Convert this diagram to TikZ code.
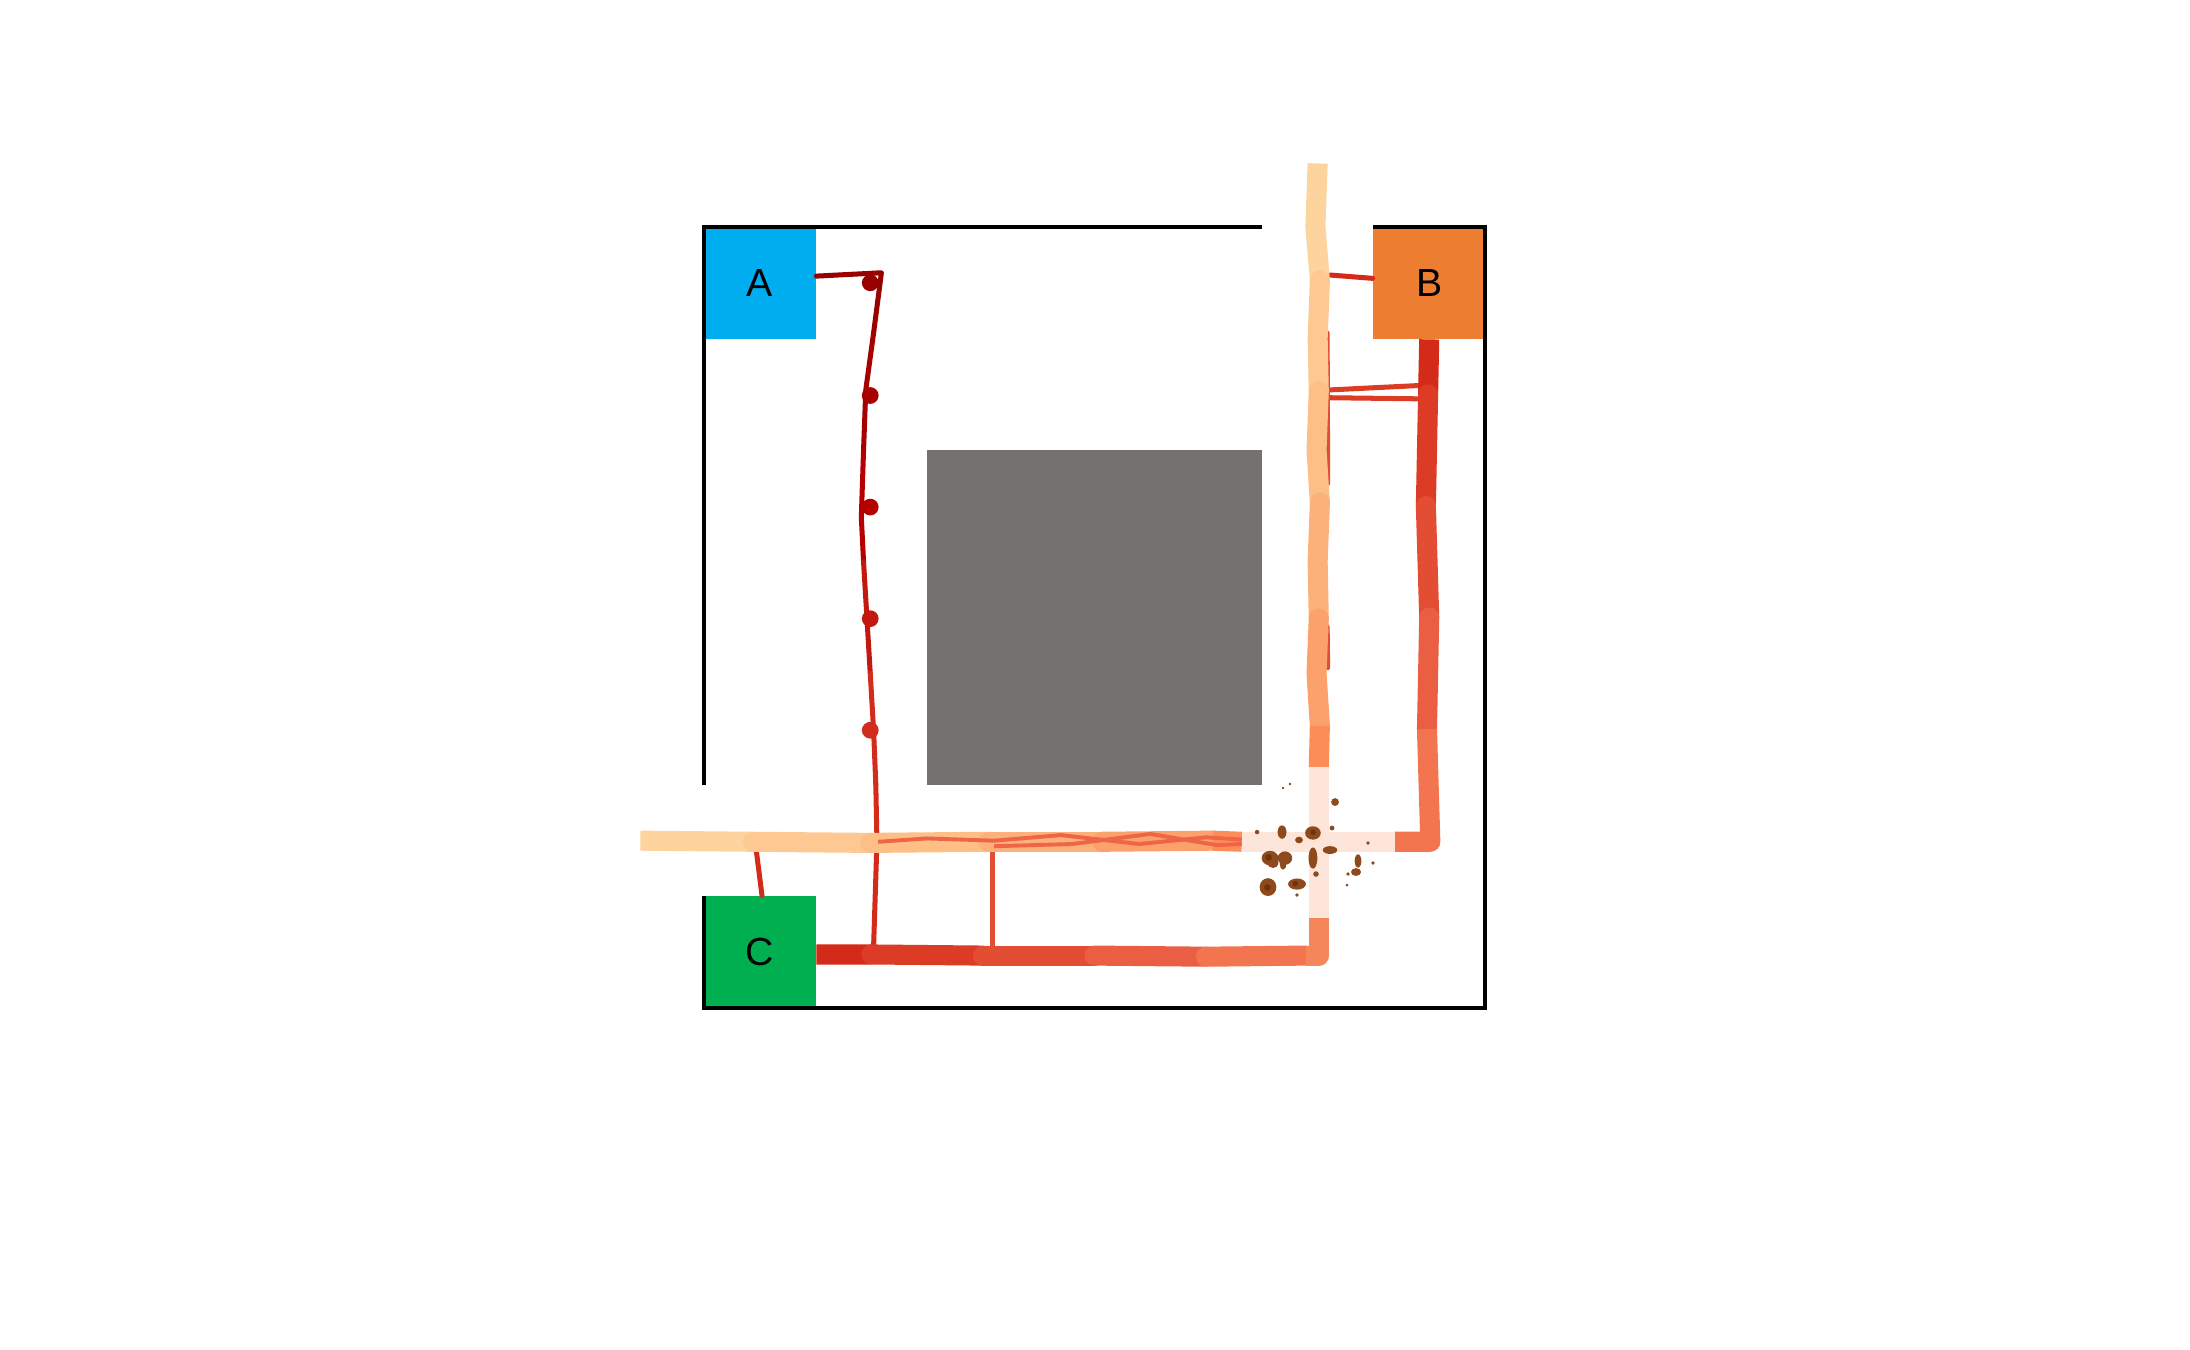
\documentclass[tikz,border=0pt]{standalone}
\usepackage{fontspec}
\setmainfont{Liberation Sans}
\definecolor{boxA}{HTML}{00AEEF}
\definecolor{boxB}{HTML}{ED7D31}
\definecolor{boxC}{HTML}{00B050}
\definecolor{wall}{HTML}{767171}
\definecolor{crumb}{HTML}{8E4A1C}
\definecolor{crumbdark}{HTML}{6E3210}
\definecolor{peachA}{HTML}{FDD49E}
\definecolor{peachB}{HTML}{FDC892}
\definecolor{peachC}{HTML}{FDBF86}
\definecolor{peachD}{HTML}{FCB07A}
\definecolor{peachE}{HTML}{FCA06C}
\definecolor{peachF}{HTML}{FC8D59}
\definecolor{cross}{HTML}{FEE5D9}
\definecolor{redA}{HTML}{D42A1A}
\definecolor{redB}{HTML}{DC3B25}
\definecolor{redC}{HTML}{E34D33}
\definecolor{redD}{HTML}{EA5F43}
\definecolor{redE}{HTML}{F2754F}
\definecolor{redF}{HTML}{F5865A}
\definecolor{darkA}{HTML}{990000}
\definecolor{darkB}{HTML}{A60000}
\definecolor{darkC}{HTML}{B50000}
\definecolor{darkD}{HTML}{C4170F}
\definecolor{darkE}{HTML}{D22C1C}
\definecolor{streak}{HTML}{EE6647}
\begin{document}
\begin{tikzpicture}[x=1cm,y=1cm,
  corner/.style={rectangle, minimum size=1cm, inner sep=0pt, font=\fontsize{10}{12}\selectfont},
  band/.style={line width=0.18cm, line cap=round, line join=round},
  bandend/.style={line width=0.18cm, line cap=butt, line join=round},
  trail/.style={line width=0.045cm, line cap=round, line join=round},
  dot/.style={circle, minimum size=0.15cm, inner sep=0pt},
  crumbs/.style={fill=crumb}]
\useasboundingbox (-6.310,-3.065) rectangle (13.319,9.035);
% arena
\fill[wall] (2,2) rectangle (5,5);
\node[corner, fill=boxA] (A) at (0.5,6.5) {A};
\node[corner, fill=boxB] (B) at (6.5,6.5) {B};
\node[corner, fill=boxC] (C) at (0.5,0.5) {C};
\draw[line width=0.03cm] (5,7) -- (0,7) -- (0,2);
\draw[line width=0.03cm] (0,1) -- (0,0) -- (7,0) -- (7,7) -- (6,7);
% thin connecting tracks
\draw[trail, redA] ([yshift=0.04cm]B.west) -- (5.61,6.57);
\draw[trail, redB] (5.61,5.54) -- (6.42,5.58);
\draw[trail, redB] (5.61,5.47) -- (6.42,5.46);
\draw[trail, redC] (5.585,6.05) -- (5.59,4.70);
\draw[trail, redC] (5.585,3.42) -- (5.59,3.05);
\draw[trail, redA] ([xshift=0.02cm]C.north) -- (0.47,1.40);
\draw[trail, redC] (2.59,1.40) -- (2.59,0.55);
% path from A
\draw[trail, darkA] ([yshift=0.06cm]A.east) -- (1.59,6.59) -- (1.52,6.05);
\draw[trail, darkB] (1.52,6.05) -- (1.45,5.54) -- (1.43,5.00);
\draw[trail, darkC] (1.43,5.00) -- (1.41,4.40) -- (1.43,4.00);
\draw[trail, darkD] (1.43,4.00) -- (1.46,3.50) -- (1.49,3.00);
\draw[trail, darkE] (1.49,3.00) -- (1.52,2.49) -- (1.54,2.00);
\draw[trail, redA] (1.54,2.00) -- (1.55,1.49) -- (1.52,0.55);
\node[dot, fill=darkA] (d1) at (1.49,6.50) {};
\node[dot, fill=darkB] (d2) at (1.49,5.49) {};
\node[dot, fill=darkC] (d3) at (1.49,4.49) {};
\node[dot, fill=darkD] (d4) at (1.49,3.49) {};
\node[dot, fill=darkE] (d5) at (1.49,2.49) {};
% vertical band
\draw[bandend, peachA] (5.50,7.57) -- (5.48,7.00) -- (5.52,6.52);
\draw[band, peachB] (5.52,6.52) -- (5.50,6.00) -- (5.51,5.53);
\draw[band, peachC] (5.51,5.53) -- (5.49,5.00) -- (5.52,4.53);
\draw[band, peachD] (5.52,4.53) -- (5.50,4.00) -- (5.51,3.49);
\draw[band, peachE] (5.51,3.49) -- (5.49,3.00) -- (5.52,2.53);
\draw[bandend, peachF] (5.52,2.53) -- (5.51,2.16);
% horizontal band
\draw[bandend, peachA] (-0.57,1.50) -- (0.44,1.49);
\draw[band, peachB] (0.44,1.49) -- (1.49,1.48);
\draw[band, peachC] (1.49,1.48) -- (2.55,1.49);
\draw[band, peachD] (2.55,1.49) -- (3.57,1.49);
\draw[band, peachE] (3.57,1.49) -- (4.56,1.50);
\draw[bandend, peachF] (4.56,1.50) -- (4.82,1.49);
\draw[line width=0.035cm, streak] (1.56,1.49) -- (2.00,1.52) -- (2.60,1.50) -- (3.20,1.55) -- (3.90,1.47) -- (4.50,1.53) -- (4.82,1.51);
\draw[line width=0.035cm, streak] (2.60,1.45) -- (3.30,1.47) -- (4.00,1.56) -- (4.60,1.46) -- (4.82,1.47);
% right band
\draw[bandend, redA] (B.south) -- (6.49,5.50);
\draw[band, redB] (6.49,5.50) -- (6.47,4.50);
\draw[band, redC] (6.47,4.50) -- (6.50,3.50);
\draw[band, redD] (6.50,3.50) -- (6.48,2.50);
\draw[bandend, redE] (6.48,2.50) -- (6.51,1.49) -- (6.19,1.49);
% bottom band
\draw[bandend, redA] ([yshift=-0.02cm]C.east) -- (1.50,0.48);
\draw[band, redB] (1.50,0.48) -- (2.50,0.47);
\draw[band, redC] (2.50,0.47) -- (3.50,0.47);
\draw[band, redD] (3.50,0.47) -- (4.50,0.46);
\draw[band, redE] (4.50,0.46) -- (5.40,0.47);
\draw[bandend, redF] (5.40,0.47) -- (5.51,0.47) -- (5.51,0.81);
% cross
\draw[bandend, cross] (5.51,2.16) -- (5.51,0.81);
\draw[bandend, cross] (4.82,1.49) -- (6.19,1.49);
% crumbs
\fill[crumbs] (5.073,1.344) ellipse (0.075 and 0.065);
\fill[crumbs] (5.10,1.30) ellipse (0.05 and 0.045);
\fill[crumbs] (5.207,1.344) ellipse (0.065 and 0.06);
\fill[crumbs] (5.19,1.29) ellipse (0.03 and 0.05);
\fill[crumbs] (5.055,1.084) ellipse (0.075 and 0.08);
\fill[crumbs] (5.315,1.111) ellipse (0.08 and 0.05);
\fill[crumbs] (5.458,1.569) ellipse (0.07 and 0.06);
\fill[crumbs] (5.181,1.577) ellipse (0.04 and 0.06);
\fill[crumbs] (5.458,1.344) ellipse (0.04 and 0.095);
\fill[crumbs] (5.611,1.416) ellipse (0.065 and 0.035);
\fill[crumbs] (5.333,1.506) ellipse (0.035 and 0.03);
\fill[crumbs] (5.656,1.846) circle (0.035);
\fill[crumbs] (5.862,1.318) ellipse (0.03 and 0.06);
\fill[crumbs] (5.844,1.219) ellipse (0.045 and 0.035);
\fill[crumbs] (5.485,1.201) circle (0.025);
\fill[crumbs] (5.629,1.613) circle (0.022);
\fill[crumbs] (5.951,1.479) circle (0.017);
\fill[crumbs] (5.996,1.300) circle (0.017);
\fill[crumbs] (5.772,1.201) circle (0.017);
\fill[crumbs] (4.957,1.577) circle (0.02);
\fill[crumbs] (5.190,1.972) circle (0.012);
\fill[crumbs] (5.252,2.008) circle (0.012);
\fill[crumbs] (5.315,1.013) circle (0.016);
\fill[crumbs] (5.763,1.102) circle (0.014);
\fill[crumbdark] (5.060,1.350) circle (0.03);
\fill[crumbdark] (5.050,1.080) circle (0.03);
\fill[crumbdark] (5.460,1.575) circle (0.025);
\fill[crumbdark] (5.300,1.115) circle (0.025);
\end{tikzpicture}
\end{document}
